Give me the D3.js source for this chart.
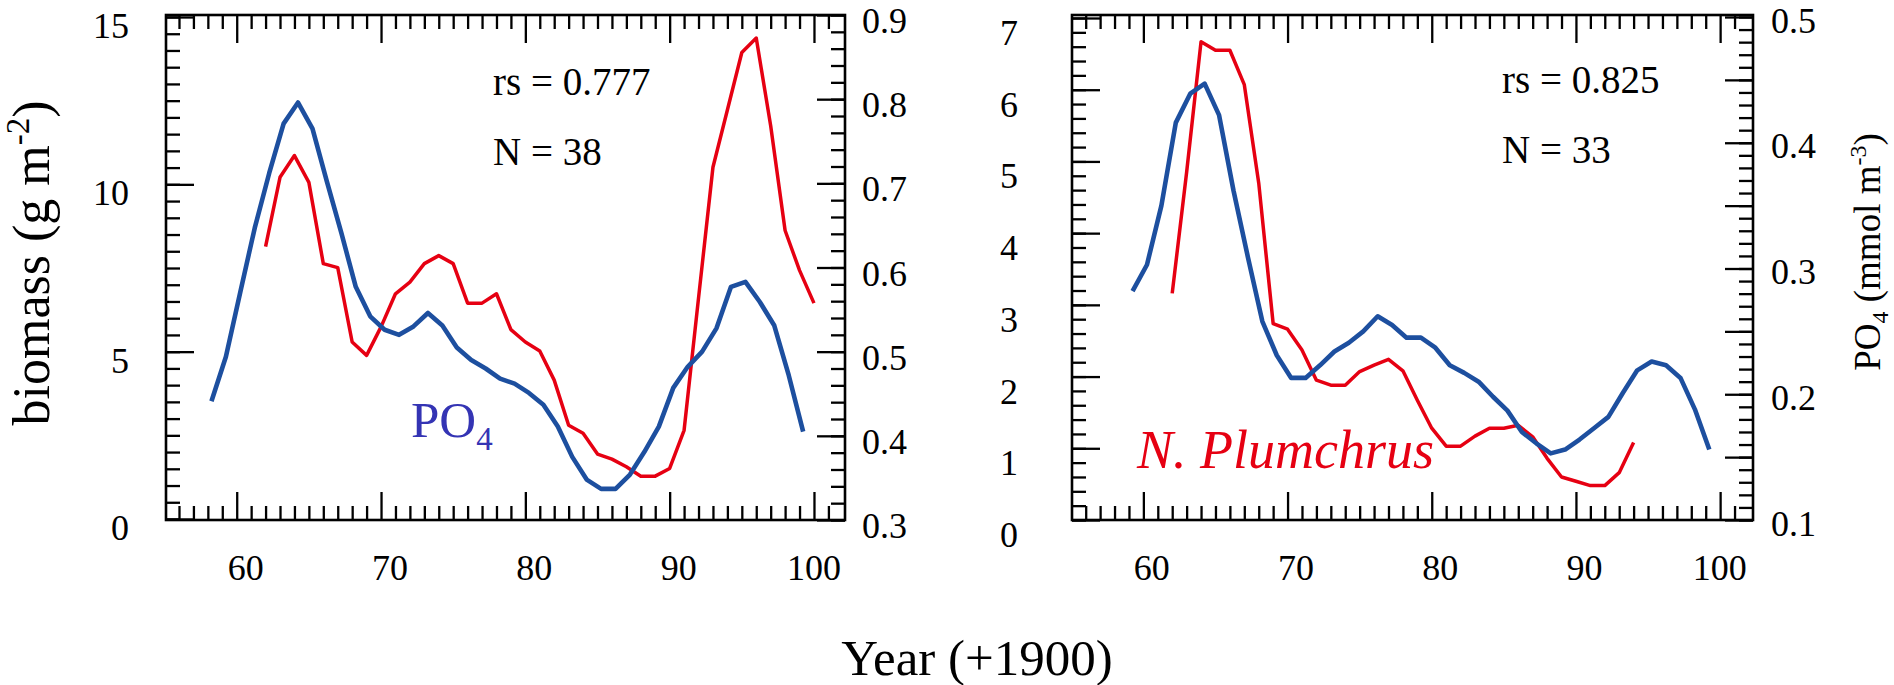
<!DOCTYPE html>
<html>
<head>
<meta charset="utf-8">
<script src="https://cdn.jsdelivr.net/npm/d3@7"></script>
<style>
  html, body { margin: 0; padding: 0; background: #fff; }
  svg { display: block; }
  .tick line { stroke: #000; stroke-width: 2.3; }
</style>
</head>
<body>
<svg id="chart" width="1894" height="685"></svg>
<script>
// ---------------- data ----------------
// Panel A: total zooplankton biomass (g m-2) and winter PO4 (mmol m-3)
const biomassYearsA = d3.range(62, 101);
const biomassA = [8.14, 10.21, 10.86, 10.06, 7.63, 7.51, 5.29, 4.89, 5.74, 6.73,
                  7.08, 7.63, 7.87, 7.63, 6.45, 6.45, 6.73, 5.66, 5.29, 5.02,
                  4.15, 2.80, 2.56, 1.94, 1.79, 1.56, 1.28, 1.28, 1.51, 2.65,
                  6.60, 10.51, 12.22, 13.94, 14.37, 11.75, 8.62, 7.43, 6.45];
const po4YearsA = d3.range(58, 100);
const po4A = [0.441, 0.494, 0.571, 0.647, 0.712, 0.771, 0.796, 0.765, 0.702, 0.641,
              0.577, 0.542, 0.526, 0.520, 0.530, 0.546, 0.531, 0.505, 0.490, 0.480,
              0.468, 0.462, 0.451, 0.437, 0.411, 0.375, 0.348, 0.337, 0.337, 0.354,
              0.381, 0.411, 0.457, 0.482, 0.500, 0.528, 0.577, 0.583, 0.559, 0.531,
              0.472, 0.405];

// Panel B: Neocalanus plumchrus biomass (g m-2) and PO4 (mmol m-3)
const biomassYearsB = d3.range(62, 95);
const biomassB = [3.16, 4.85, 6.67, 6.55, 6.55, 6.07, 4.70, 2.74, 2.66, 2.37,
                  1.95, 1.88, 1.88, 2.07, 2.16, 2.24, 2.08, 1.67, 1.28, 1.03,
                  1.03, 1.17, 1.28, 1.28, 1.32, 1.16, 0.86, 0.60, 0.54, 0.48,
                  0.48, 0.66, 1.08];
const po4YearsB = d3.range(59, 100);
const po4B = [0.282, 0.303, 0.350, 0.416, 0.439, 0.447, 0.422, 0.362, 0.309, 0.258,
              0.231, 0.213, 0.213, 0.223, 0.234, 0.241, 0.250, 0.262, 0.255, 0.245,
              0.245, 0.237, 0.223, 0.217, 0.210, 0.198, 0.187, 0.170, 0.161, 0.153,
              0.156, 0.164, 0.173, 0.182, 0.201, 0.219, 0.226, 0.223, 0.213, 0.188,
              0.156];

// PO4 samples sit a quarter-year into each year
const po4Lag = 0.25;

// tick labels
const yearTicks = [60, 70, 80, 90, 100];
const biomassTicksA = [0, 5, 10, 15];
const po4TicksA = [0.3, 0.4, 0.5, 0.6, 0.7, 0.8, 0.9];
const biomassTicksB = [0, 1, 2, 3, 4, 5, 6, 7];
const po4TicksB = [0.1, 0.2, 0.3, 0.4, 0.5];

const stats = [
  { rs: "rs = 0.777", n: "N = 38" },
  { rs: "rs = 0.825", n: "N = 33" }
];

// ---------------- styling ----------------
const RED = "#e60012";
const BLUE = "#1d4f9f";
const LABEL_BLUE = "#3434b4";
const TICK_FONT = 36;
const SERIF = '"Liberation Serif", "DejaVu Serif", serif';

const svg = d3.select("#chart");

// text node with the serif face set as an inline style
function label(parent, size) {
  return parent.append("text")
    .style("font-family", SERIF)
    .style("font-size", size + "px");
}

const panels = [
  {
    box: { left: 166, right: 845, top: 15, bottom: 520 },
    xDomain: [55.1, 102.15],
    yL: { domain: [0, 15], range: [519, 17], major: biomassTicksA, minorStep: 0.5,
          labelX: 129, labelDy: 21 },
    yR: { domain: [0.3, 0.9], range: [520, 15], major: po4TicksA, minorStep: 0.02,
          labelX: 862, labelDy: 18, fmt: d3.format(".1f") },
    xLabelDx: 27,
    bio: { years: biomassYearsA, values: biomassA },
    po4: { years: po4YearsA, values: po4A },
    stats: stats[0],
    statsPos: { x: 493, y1: 95, y2: 165 }
  },
  {
    box: { left: 1072, right: 1753, top: 15, bottom: 520 },
    xDomain: [55.05, 102.28],
    yL: { domain: [0, 7], range: [520, 18], major: biomassTicksB, minorStep: 0.2,
          labelX: 1018, labelDy: 27 },
    yR: { domain: [0.1, 0.5], range: [520, 17], major: po4TicksB, minorStep: 0.01,
          majorStep: 0.05, labelX: 1771, labelDy: 15.5, fmt: d3.format(".1f") },
    xLabelDx: 26.5,
    bio: { years: biomassYearsB, values: biomassB },
    po4: { years: po4YearsB, values: po4B },
    stats: stats[1],
    statsPos: { x: 1502, y1: 93, y2: 163 }
  }
];

function stepValues(lo, hi, step) {
  const n = Math.round((hi - lo) / step);
  return d3.range(0, n + 1).map(i => +(lo + i * step).toFixed(4));
}

function tickAxis(g, axisFn, scale, values, len) {
  g.call(axisFn(scale).tickValues(values).tickSize(-len).tickFormat(""));
  g.select(".domain").remove();
  g.selectAll(".tick text").remove();
}

// ----- axis frames and ticks first -----
const frameLayer = svg.append("g");
const textLayer = svg.append("g");

panels.forEach(p => {
  const b = p.box;
  const x = d3.scaleLinear().domain(p.xDomain).range([b.left, b.right]);
  const yL = d3.scaleLinear().domain(p.yL.domain).range(p.yL.range);
  const yR = d3.scaleLinear().domain(p.yR.domain).range(p.yR.range);

  const axes = frameLayer.append("g");

  // ticks, all pointing inward
  const yearMinor = d3.range(56, 102).filter(v => v % 10 !== 0);
  [[d3.axisBottom, b.bottom], [d3.axisTop, b.top]].forEach(([fn, pos]) => {
    tickAxis(axes.append("g").attr("transform", `translate(0,${pos})`), fn, x, yearMinor, 14);
    tickAxis(axes.append("g").attr("transform", `translate(0,${pos})`), fn, x, yearTicks, 28);
  });

  const lMinor = stepValues(p.yL.domain[0], p.yL.domain[1], p.yL.minorStep);
  tickAxis(axes.append("g").attr("transform", `translate(${b.left},0)`), d3.axisLeft, yL, lMinor, 14);
  tickAxis(axes.append("g").attr("transform", `translate(${b.left},0)`), d3.axisLeft, yL, p.yL.major, 28);

  const rMinor = stepValues(p.yR.domain[0], p.yR.domain[1], p.yR.minorStep);
  const rMajor = p.yR.majorStep
    ? stepValues(p.yR.domain[0], p.yR.domain[1], p.yR.majorStep)
    : p.yR.major;
  tickAxis(axes.append("g").attr("transform", `translate(${b.right},0)`), d3.axisRight, yR, rMinor, 14);
  tickAxis(axes.append("g").attr("transform", `translate(${b.right},0)`), d3.axisRight, yR, rMajor, 28);

  axes.append("rect")
    .attr("x", b.left).attr("y", b.top)
    .attr("width", b.right - b.left).attr("height", b.bottom - b.top)
    .attr("fill", "none").attr("stroke", "#000").attr("stroke-width", 2.6);

  // series
  const bioLine = d3.line().x(d => x(d[0])).y(d => yL(d[1]));
  const po4Line = d3.line().x(d => x(d[0] + po4Lag)).y(d => yR(d[1]));

  axes.append("path")
    .datum(d3.zip(p.bio.years, p.bio.values))
    .attr("d", bioLine)
    .attr("fill", "none").attr("stroke", RED)
    .attr("stroke-width", 3.5).attr("stroke-linejoin", "round");

  axes.append("path")
    .datum(d3.zip(p.po4.years, p.po4.values))
    .attr("d", po4Line)
    .attr("fill", "none").attr("stroke", BLUE)
    .attr("stroke-width", 4.6).attr("stroke-linejoin", "round");

  // tick labels
  yearTicks.forEach(d => {
    label(textLayer, TICK_FONT).attr("x", x(d) + p.xLabelDx).attr("y", 580)
      .attr("text-anchor", "end").text(d);
  });
  p.yL.major.forEach(d => {
    label(textLayer, TICK_FONT).attr("x", p.yL.labelX).attr("y", yL(d) + p.yL.labelDy)
      .attr("text-anchor", "end").text(d);
  });
  p.yR.major.forEach(d => {
    label(textLayer, TICK_FONT).attr("x", p.yR.labelX).attr("y", yR(d) + p.yR.labelDy)
      .attr("text-anchor", "start").text(p.yR.fmt(d));
  });

  // statistics
  label(textLayer, 39).attr("x", p.statsPos.x).attr("y", p.statsPos.y1).text(p.stats.rs);
  label(textLayer, 39).attr("x", p.statsPos.x).attr("y", p.statsPos.y2).text(p.stats.n);
});

// ----- series names -----
const po4Label = label(textLayer, 51)
  .attr("x", 411).attr("y", 437).attr("fill", LABEL_BLUE);
po4Label.append("tspan").text("PO");
po4Label.append("tspan").style("font-size", "33px").attr("dy", 13).text("4");

label(textLayer, 54)
  .attr("x", 1137).attr("y", 468)
  .style("font-style", "italic").attr("fill", RED)
  .text("N. Plumchrus");

// ----- axis titles -----
const yTitle = label(textLayer, 52)
  .attr("transform", "translate(49,263) rotate(-90)")
  .attr("text-anchor", "middle");
yTitle.append("tspan").text("biomass (g m");
yTitle.append("tspan").style("font-size", "33px").attr("dy", -20).text("-2");
yTitle.append("tspan").attr("dy", 20).text(")");

const rTitle = label(textLayer, 37)
  .attr("transform", "translate(1880,252) rotate(-90)")
  .attr("text-anchor", "middle");
rTitle.append("tspan").text("PO");
rTitle.append("tspan").style("font-size", "24px").attr("dy", 8).text("4");
rTitle.append("tspan").attr("dy", -8).text(" (mmol m");
rTitle.append("tspan").style("font-size", "24px").attr("dy", -14).text("-3");
rTitle.append("tspan").attr("dy", 14).text(")");

label(textLayer, 51)
  .attr("x", 977).attr("y", 675)
  .attr("text-anchor", "middle")
  .text("Year (+1900)");
</script>
</body>
</html>
